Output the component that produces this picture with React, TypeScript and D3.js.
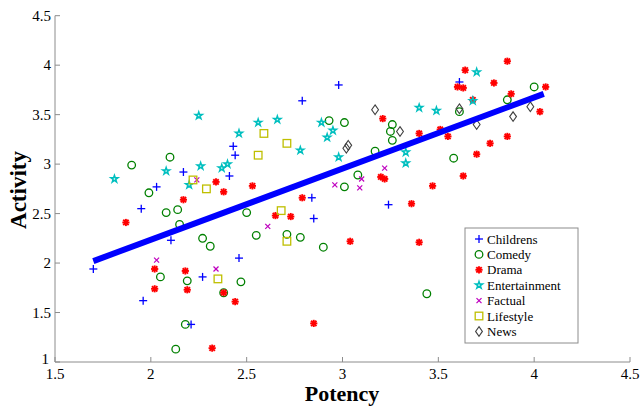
import React from "react";
import * as d3 from "d3";

const W = 640;
const H = 406;

const childrensX = [1.70, 1.96, 1.95, 2.03, 2.105, 2.27, 2.21, 2.46, 2.17, 2.41, 2.43, 2.44, 2.98, 2.79, 2.84, 2.85, 3.24, 3.61];
const childrensY = [1.94, 1.62, 2.55, 2.77, 2.23, 1.86, 1.38, 2.05, 2.92, 2.88, 3.18, 3.09, 3.80, 3.64, 2.66, 2.45, 2.59, 3.83];

const comedyX = [1.90, 2.10, 1.99, 2.08, 2.14, 2.15, 2.27, 2.31, 2.05, 2.19, 2.47, 2.38, 2.18, 2.13, 2.50, 2.55, 2.71, 2.78, 2.90, 3.01, 2.93, 3.01, 3.08, 3.17, 3.26, 3.25, 3.26, 3.44, 3.58, 3.61, 3.86, 4.00];
const comedyY = [2.99, 3.07, 2.71, 2.51, 2.54, 2.39, 2.25, 2.17, 1.86, 1.82, 1.81, 1.70, 1.38, 1.13, 2.51, 2.28, 2.29, 2.26, 2.16, 2.77, 3.44, 3.42, 2.89, 3.13, 3.40, 3.33, 3.24, 1.69, 3.06, 3.53, 3.65, 3.78];

const dramaX = [1.87, 2.02, 2.02, 2.18, 2.19, 2.17, 2.34, 2.38, 2.38, 2.44, 2.32, 2.53, 2.79, 2.65, 2.73, 3.04, 2.85, 3.21, 3.20, 3.22, 3.40, 3.47, 3.36, 3.40, 3.51, 3.55, 3.70, 3.63, 3.77, 3.86, 4.03, 4.06, 3.88, 3.79, 3.64, 3.60, 3.63, 3.68, 3.86];
const dramaY = [2.41, 1.94, 1.74, 1.92, 1.73, 2.64, 2.82, 2.72, 1.70, 1.61, 1.14, 2.78, 2.66, 2.48, 2.47, 2.22, 1.39, 3.46, 2.87, 2.85, 3.31, 2.78, 2.60, 2.21, 3.35, 3.28, 3.10, 2.88, 3.21, 3.28, 3.53, 3.78, 3.71, 3.82, 3.95, 3.78, 3.77, 3.65, 4.04];

const entertainmentX = [1.81, 2.25, 2.46, 2.26, 2.08, 2.20, 2.37, 2.40, 2.56, 2.66, 2.78, 2.89, 2.95, 2.92, 2.98, 3.40, 3.49, 3.33, 3.33, 3.70, 3.68];
const entertainmentY = [2.85, 3.49, 3.31, 2.98, 2.93, 2.79, 2.96, 3.00, 3.42, 3.45, 3.14, 3.42, 3.34, 3.27, 3.07, 3.57, 3.54, 3.12, 3.01, 3.93, 3.64];

const factualX = [2.03, 2.34, 2.24, 2.96, 3.10, 3.09, 3.22, 2.61];
const factualY = [2.03, 1.94, 2.84, 2.79, 2.85, 2.76, 2.96, 2.37];

const lifestyleX = [2.22, 2.29, 2.59, 2.71, 2.56, 2.68, 2.71, 2.35];
const lifestyleY = [2.84, 2.75, 3.31, 3.21, 3.09, 2.53, 2.22, 1.84];

const newsX = [3.17, 3.02, 3.03, 3.30, 3.61, 3.70, 3.89, 3.98];
const newsY = [3.55, 3.16, 3.19, 3.33, 3.56, 3.40, 3.48, 3.58];

const fitX = [1.70, 4.05];
const fitY = [2.02, 3.71];

const xTicks = [1.5, 2, 2.5, 3, 3.5, 4, 4.5];
const yTicks = [1, 1.5, 2, 2.5, 3, 3.5, 4, 4.5];

const groupNames = ["Childrens", "Comedy", "Drama", "Entertainment", "Factual", "Lifestyle", "News"];
const groupColors = ["#0000ff", "#008000", "#ff0000", "#00bfbf", "#bf00bf", "#bfbf00", "#404040"];
const groupXs = [childrensX, comedyX, dramaX, entertainmentX, factualX, lifestyleX, newsX];
const groupYs = [childrensY, comedyY, dramaY, entertainmentY, factualY, lifestyleY, newsY];

const x = d3.scaleLinear().domain([1.5, 4.5]).range([55, 630]);
const y = d3.scaleLinear().domain([1, 4.5]).range([362, 15.7]);

const starPath = d3.symbol().type(d3.symbolStar).size(15)() as string;

function Marker({ kind, cx, cy, color }: { kind: number; cx: number; cy: number; color: string }) {
  const t = `translate(${cx},${cy})`;
  switch (kind) {
    case 0:
      return (
        <g transform={t} stroke={color} strokeWidth={1.3}>
          <line x1={-4} x2={4} y1={0} y2={0} />
          <line x1={0} x2={0} y1={-4} y2={4} />
        </g>
      );
    case 1:
      return <circle cx={cx} cy={cy} r={3.8} fill="none" stroke={color} strokeWidth={1.3} />;
    case 2:
      return (
        <g transform={t} stroke={color} strokeWidth={1.9}>
          <line x1={-3.6} x2={3.6} y1={0} y2={0} />
          <line x1={0} x2={0} y1={-3.6} y2={3.6} />
          <line x1={-2.7} x2={2.7} y1={-2.7} y2={2.7} />
          <line x1={-2.7} x2={2.7} y1={2.7} y2={-2.7} />
          <circle r={2} fill={color} stroke="none" />
        </g>
      );
    case 3:
      return <path transform={t} d={starPath} fill="none" stroke={color} strokeWidth={1.5} />;
    case 4:
      return (
        <g transform={t} stroke={color} strokeWidth={1.2}>
          <line x1={-2.5} x2={2.5} y1={-2.5} y2={2.5} />
          <line x1={-2.5} x2={2.5} y1={2.5} y2={-2.5} />
        </g>
      );
    case 5:
      return <rect x={cx - 3.8} y={cy - 3.8} width={7.6} height={7.6} fill="none" stroke={color} strokeWidth={1.3} />;
    default:
      return <path transform={t} d="M0,-4.8L3.4,0L0,4.8L-3.4,0Z" fill="none" stroke={color} strokeWidth={1.1} />;
  }
}

export default function App() {
  const axisColor = "#8c8c8c";
  const line = d3.line<number>().x((_, i) => x(fitX[i])).y((_, i) => y(fitY[i]));
  const legendX = 465;
  const legendY = 228;
  const legendW = 113;
  const legendH = 115;
  return (
    <svg width={W} height={H} style={{ position: "absolute", left: 0, top: 0, background: "#fff" }} fontFamily="'Liberation Serif', 'Times New Roman', serif">
      <rect width={W} height={H} fill="#fff" />
      {/* axes */}
      <line x1={x(1.5)} x2={x(1.5)} y1={y(1)} y2={y(4.5)} stroke={axisColor} strokeWidth={1} />
      <line x1={x(1.5)} x2={x(4.5)} y1={y(1)} y2={y(1)} stroke={axisColor} strokeWidth={1} />
      {xTicks.map((t) => (
        <g key={"xt" + t}>
          <line x1={x(t)} x2={x(t)} y1={y(1)} y2={y(1) - 5} stroke={axisColor} />
          <text x={x(t)} y={y(1) + 16.5} textAnchor="middle" fontSize={15} fill="#000">{String(t)}</text>
        </g>
      ))}
      {yTicks.map((t) => (
        <g key={"yt" + t}>
          <line x1={x(1.5)} x2={x(1.5) + 5} y1={y(t)} y2={y(t)} stroke={axisColor} />
          <text x={x(1.5) - (t === 1 ? 6 : 4)} y={y(t) + (t === 1 ? 2 : 5)} textAnchor="end" fontSize={15} fill="#000">{String(t)}</text>
        </g>
      ))}
      <text x={342} y={400.5} textAnchor="middle" fontSize={22} fontWeight="bold" fill="#000">Potency</text>
      <text transform={`translate(26,${190}) rotate(-90)`} textAnchor="middle" fontSize={23} fontWeight="bold" fill="#000">Activity</text>
      {/* points */}
      {groupXs.map((xs, g) => (
        <g key={"g" + g}>
          {xs.map((v, i) => (
            <Marker key={i} kind={g} cx={x(v)} cy={y(groupYs[g][i])} color={groupColors[g]} />
          ))}
        </g>
      ))}
      {/* fit line */}
      <path d={line(fitX) as string} stroke="#0000ff" strokeWidth={6} fill="none" />
      {/* legend */}
      <rect x={legendX} y={legendY} width={legendW} height={legendH} fill="#fff" stroke={axisColor} />
      {groupNames.map((name, g) => (
        <g key={"l" + g}>
          <Marker kind={g} cx={legendX + 14} cy={legendY + 11 + g * 15.4} color={groupColors[g]} />
          <text x={legendX + 22} y={legendY + 15.5 + g * 15.4} fontSize={13} fill="#000">{name}</text>
        </g>
      ))}
    </svg>
  );
}
